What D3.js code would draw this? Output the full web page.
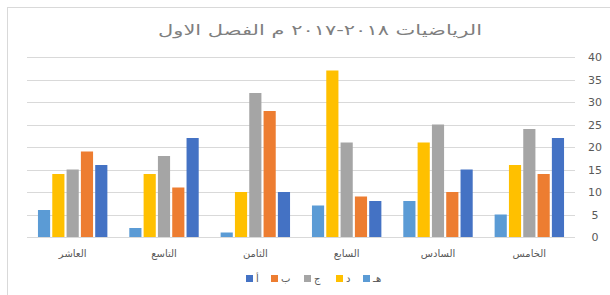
<!DOCTYPE html>
<html><head><meta charset="utf-8">
<script src="https://cdn.jsdelivr.net/npm/d3@7"></script>
<style>body{margin:0;background:#fff}svg{display:block}text{font-family:"DejaVu Sans","Noto Sans",sans-serif}</style>
</head><body><svg id="c" width="610" height="295"></svg>
<script>
const categories = ["العاشر","التاسع","الثامن","السابع","السادس","الخامس"];
const seriesNames = ["هـ","د","ج","ب","أ"]; // left-to-right within each group
const seriesA = [16,22,10,8,15,22];
const seriesB = [19,11,28,9,10,14];
const seriesJ = [15,18,32,21,25,24];
const seriesD = [14,14,10,37,21,16];
const seriesH = [6,2,1,7,8,5];
const yTicks = [0,5,10,15,20,25,30,35,40];
const legendOrder = ["أ","ب","ج","د","هـ"];
const titleText = "الرياضيات ٢٠١٨-٢٠١٧ م الفصل الاول";

const valuesBySeries = {"أ":seriesA,"ب":seriesB,"ج":seriesJ,"د":seriesD,"هـ":seriesH};
const colors = {"أ":"#4472C4","ب":"#ED7D31","ج":"#A5A5A5","د":"#FFC000","هـ":"#5B9BD5"};

const svg = d3.select("#c");
svg.append("rect").attr("x",7.5).attr("y",7.5).attr("width",620).attr("height",300)
  .attr("fill","#fff").attr("stroke","#d9d9d9");

const x0 = d3.scaleBand().domain(categories).range([27,575]).paddingInner(0.24).paddingOuter(0.12);
const x1 = d3.scaleBand().domain(seriesNames).range([0,x0.bandwidth()]).paddingInner(0.15);
const y = d3.scaleLinear().domain([0,40]).range([237,57]);

// gridlines
svg.append("g").selectAll("line").data(yTicks).join("line")
  .attr("x1",27).attr("x2",575).attr("y1",d=>Math.round(y(d))+0.5).attr("y2",d=>Math.round(y(d))+0.5)
  .attr("stroke","#d9d9d9").attr("stroke-width",1);

// right axis labels
const ax = svg.append("g").attr("transform","translate(583,0)")
  .call(d3.axisRight(y).tickValues(yTicks).tickSize(0).tickPadding(6));
ax.select(".domain").remove();
ax.selectAll("text").attr("fill","#595959").style("font-size","11px").attr("text-anchor","middle").attr("x",12);

// bars
const data = [];
categories.forEach((c,i)=>seriesNames.forEach(s=>data.push({c,s,v:valuesBySeries[s][i]})));
svg.append("g").selectAll("rect").data(data).join("rect")
  .attr("x",d=>x0(d.c)+x1(d.s)).attr("width",x1.bandwidth())
  .attr("y",d=>y(d.v)).attr("height",d=>y(0)-y(d.v)).attr("fill",d=>colors[d.s]);

// category labels
svg.append("g").selectAll("text").data(categories).join("text")
  .attr("x",d=>x0(d)+x0.bandwidth()/2).attr("y",257).attr("text-anchor","middle")
  .attr("fill","#595959").style("font-size","10px").text(d=>d);

// title
svg.append("text").attr("x",320).attr("y",35).attr("text-anchor","middle")
  .attr("fill","#7f7f7f").style("font-size","14px")
  .attr("textLength",324).attr("lengthAdjust","spacingAndGlyphs").text(titleText);

// legend
const legX = [246,271,304,336,363];
const lg = svg.append("g").selectAll("g").data(legendOrder).join("g")
  .attr("transform",(d,i)=>`translate(${legX[i]},275)`);
lg.append("rect").attr("width",7).attr("height",7).attr("fill",d=>colors[d]);
lg.append("text").attr("x",10).attr("y",7).attr("fill","#595959").style("font-size","10px").text(d=>d);
</script></body></html>
